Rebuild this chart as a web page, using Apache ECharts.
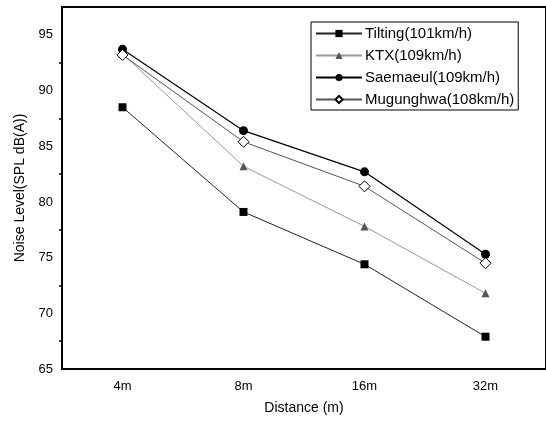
<!DOCTYPE html>
<html>
<head>
<meta charset="utf-8">
<script src="https://cdn.jsdelivr.net/npm/echarts@6/dist/echarts.min.js"></script>
<style>
  html, body { margin: 0; padding: 0; background: #fff; }
  #graph { width: 546px; height: 423px; }
</style>
</head>
<body>
<div id="graph"></div>
<script>
// data
var distances = ['4m', '8m', '16m', '32m'];
var tilting = [88.5, 79.1, 74.4, 67.9];
var ktx = [93.3, 83.2, 77.8, 71.8];
var saemaeul = [93.7, 86.4, 82.7, 75.3];
var mugunghwa = [93.2, 85.4, 81.4, 74.5];
var seriesNames = ['Tilting(101km/h)', 'KTX(109km/h)', 'Saemaeul(109km/h)', 'Mugunghwa(108km/h)'];

var myChart = echarts.init(document.getElementById('graph'));
var font = 'Liberation Sans, Arial, sans-serif';

var option = {
    animation: false,
    backgroundColor: '#fff',
    textStyle: { fontFamily: font },
    grid: {
        left: 62,
        top: 7,
        right: -1,
        bottom: 54,
        show: true,
        borderColor: '#000',
        borderWidth: 2
    },
    legend: {
        orient: 'vertical',
        left: 311,
        top: 22,
        padding: [4, 4, 3, 4],
        itemGap: 7,
        itemWidth: 46,
        itemHeight: 9,
        borderColor: '#000',
        borderWidth: 1,
        textStyle: { fontSize: 15, color: '#000', fontFamily: font, padding: [0, 0, 0, -2] },
        data: seriesNames
    },
    xAxis: [
        {
            type: 'category',
            data: distances,
            name: 'Distance (m)',
            nameLocation: 'middle',
            nameGap: 32,
            nameTextStyle: { fontSize: 14, color: '#000' },
            axisLine: { lineStyle: { color: '#000', width: 2 } },
            axisTick: { alignWithLabel: true, length: 5, lineStyle: { color: '#000', width: 1.5 } },
            axisLabel: { fontSize: 13, color: '#000', margin: 11 },
            splitLine: { show: false }
        },
        {
            type: 'category',
            data: distances,
            position: 'bottom',
            axisLine: { show: false },
            axisTick: { length: 3, lineStyle: { color: '#000', width: 1.5 } },
            axisLabel: { show: false },
            splitLine: { show: false }
        }
    ],
    yAxis: {
        type: 'value',
        min: 65,
        max: 97.5,
        interval: 5,
        name: 'Noise Level(SPL dB(A))',
        nameLocation: 'middle',
        nameGap: 34,
        nameTextStyle: { fontSize: 14, color: '#000' },
        axisLine: { show: true, lineStyle: { color: '#000', width: 2 } },
        axisTick: { length: 5, lineStyle: { color: '#000', width: 1.5 } },
        minorTick: { show: true, splitNumber: 2, length: 3, lineStyle: { color: '#000', width: 1.5 } },
        axisLabel: {
            fontSize: 13,
            color: '#000',
            margin: 9,
            formatter: function (v) { return v % 5 === 0 ? String(v) : ''; }
        },
        splitLine: { show: false }
    },
    series: [
        {
            name: seriesNames[0],
            type: 'line',
            data: tilting,
            symbol: 'rect',
            symbolSize: 8,
            itemStyle: { color: '#000' },
            lineStyle: { color: '#222', width: 1 }
        },
        {
            name: seriesNames[1],
            type: 'line',
            data: ktx,
            symbol: 'triangle',
            symbolSize: 8,
            itemStyle: { color: '#555' },
            lineStyle: { color: '#999', width: 1 }
        },
        {
            name: seriesNames[2],
            type: 'line',
            data: saemaeul,
            symbol: 'circle',
            symbolSize: 9,
            itemStyle: { color: '#000' },
            lineStyle: { color: '#000', width: 1.2 }
        },
        {
            name: seriesNames[3],
            type: 'line',
            data: mugunghwa,
            symbol: 'diamond',
            symbolSize: 11,
            itemStyle: { color: '#fff', borderColor: '#000', borderWidth: 1 },
            lineStyle: { color: '#555', width: 1 }
        }
    ]
};

myChart.setOption(option);
</script>
</body>
</html>
